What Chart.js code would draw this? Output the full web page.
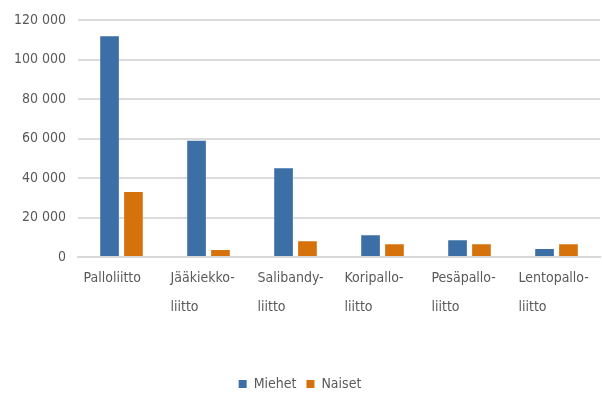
<!DOCTYPE html>
<html>
<head>
<meta charset="utf-8">
<script src="https://cdn.jsdelivr.net/npm/chart.js@4/dist/chart.umd.min.js"></script>
<style>
html,body{margin:0;padding:0;background:#fff;}
#wrap{width:602px;height:395px;position:relative;}
</style>
</head>
<body>
<div id="wrap"><canvas id="c"></canvas></div>
<script>
const categories = [
  "Palloliitto",
  ["Jääkiekko-", "liitto"],
  ["Salibandy-", "liitto"],
  ["Koripallo-", "liitto"],
  ["Pesäpallo-", "liitto"],
  ["Lentopallo-", "liitto"]
];
const seriesNames = ["Miehet", "Naiset"];
const miehet = [112000, 59000, 45000, 11000, 8500, 4000];
const naiset = [33000, 3500, 8000, 6500, 6500, 6500];
const yTicks = [0, 20000, 40000, 60000, 80000, 100000, 120000];

const FONT = "'Liberation Sans Narrow', 'DejaVu Sans Condensed', 'Arial Narrow', sans-serif";
Chart.defaults.font.family = FONT;
Chart.defaults.color = '#595959';

function fmt(v){ return String(v).replace(/\B(?=(\d{3})+(?!\d))/g, ' '); }

new Chart(document.getElementById('c'), {
  type: 'bar',
  data: {
    labels: categories,
    datasets: [
      { label: seriesNames[0], data: miehet, backgroundColor: '#3b6fa6', borderWidth: 0 },
      { label: seriesNames[1], data: naiset, backgroundColor: '#d5720c', borderWidth: 0 }
    ]
  },
  options: {
    responsive: true,
    maintainAspectRatio: false,
    animation: false,
    categoryPercentage: 0.55,
    barPercentage: 0.78,
    layout: { padding: { top: 11, right: 2, left: 0, bottom: -6 } },
    plugins: {
      tooltip: { enabled: false },
      legend: {
        position: 'bottom',
        labels: {
          boxWidth: 8, boxHeight: 8, padding: 10,
          color: '#595959',
          font: { size: 14 }
        }
      }
    },
    scales: {
      x: {
        grid: { display: false, drawTicks: false },
        border: { display: true, color: '#d9d9d9', width: 2 },
        ticks: {
          color: '#595959',
          font: { size: 14, lineHeight: 2.05 },
          padding: 7,
          align: 'start',
          labelOffset: -38,
          maxRotation: 0,
          autoSkip: false
        },
        afterFit: function(s){ s.height = 110; s.paddingLeft = 0; s.paddingRight = 0; }
      },
      y: {
        min: 0, max: 120000,
        afterBuildTicks: function(s){ s.ticks = yTicks.map(v => ({ value: v })); },
        grid: { color: '#dcdcdc', lineWidth: 2, drawTicks: false },
        border: { display: false },
        ticks: {
          color: '#595959',
          font: { size: 14 },
          padding: 12,
          callback: function(v){ return fmt(v); }
        },
        afterFit: function(s){ s.width = 78; }
      }
    }
  }
});
</script>
</body>
</html>
